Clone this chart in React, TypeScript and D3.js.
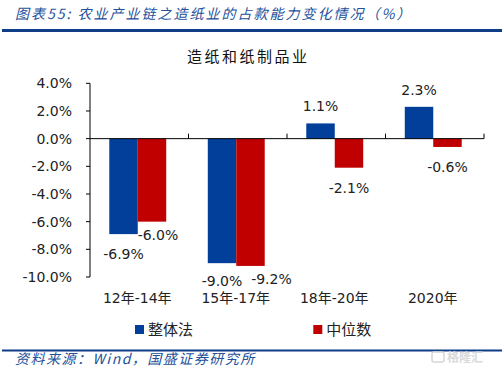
import React from "react";
import * as d3 from "d3";

const categories = ["12年-14年", "15年-17年", "18年-20年", "2020年"];
const seriesNames = ["整体法", "中位数"];
const wholeMethod = [-6.9, -9.0, 1.1, 2.3];
const median = [-6.0, -9.2, -2.1, -0.6];
const yTicks = [4, 2, 0, -2, -4, -6, -8, -10];

const headerText = "图表55: 农业产业链之造纸业的占款能力变化情况（%）";
const chartTitle = "造纸和纸制品业";
const sourceText = "资料来源：Wind，国盛证券研究所";

const colors = ["#013F9A", "#C00000"];
// manual label nudges (dx, dy) per series per category, to avoid overlap
const labelNudge = [
  [[0, 0], [0, -2], [0, 0], [0, 0]],
  [[6, -6.5], [21, -6.5], [0, 0], [0, 0]],
];

const W = 504;
const H = 381;
const plot = { left: 90, right: 484, top: 83.3, bottom: 277 };
const latin = "'DejaVu Sans', 'Noto Sans CJK SC', sans-serif";
const cjk = "'Noto Sans CJK SC', 'DejaVu Sans', sans-serif";

export default function App() {
  const y = d3.scaleLinear().domain([-10, 4]).range([plot.bottom, plot.top]);
  const x0 = d3.scaleBand<string>().domain(categories).range([plot.left, plot.right]).padding(0);
  const x1 = d3
    .scaleBand<number>()
    .domain([0, 1])
    .range([0, x0.bandwidth()])
    .paddingInner(0)
    .paddingOuter(0.73);
  const series = [wholeMethod, median];
  const zero = y(0);
  const fmt = (v: number) => v.toFixed(1) + "%";

  return (
    <svg
      width={W}
      height={H}
      style={{ position: "absolute", left: 0, top: 0, background: "#fff" }}
    >
      <rect x={0} y={0} width={W} height={H} fill="#fff" />
      {/* header */}
      <text
        x={15}
        y={19}
        fontFamily={cjk}
        fontSize={14}
        fontStyle="italic"
        letterSpacing={2}
        fill="#24509A"
      >
        {headerText}
      </text>
      <rect x={2} y={29} width={500} height={3} fill="#0F3D87" />

      {/* chart title */}
      <text x={187} y={62} fontFamily={cjk} fontSize={15} letterSpacing={2.5} fill="#111">
        {chartTitle}
      </text>

      {/* bars */}
      {series.map((vals, si) =>
        vals.map((v, ci) => {
          const bx = (x0(categories[ci]) as number) + (x1(si) as number) - 1.5;
          const yv = y(v);
          return (
            <rect
              key={`b${si}-${ci}`}
              x={bx}
              y={Math.min(yv, zero)}
              width={x1.bandwidth()}
              height={Math.abs(yv - zero)}
              fill={colors[si]}
            />
          );
        })
      )}

      {/* y axis */}
      <line x1={plot.left} x2={plot.left} y1={plot.top} y2={plot.bottom} stroke="#000" strokeWidth={1} />
      {yTicks.map((t) => (
        <g key={`yt${t}`}>
          <line x1={plot.left - 4} x2={plot.left} y1={y(t)} y2={y(t)} stroke="#000" />
          <text
            x={72}
            y={y(t) + 5}
            textAnchor="end"
            fontFamily={latin}
            fontSize={14}
            fill="#222"
          >
            {t.toFixed(1) + "%"}
          </text>
        </g>
      ))}

      {/* x axis */}
      <line x1={plot.left} x2={plot.right} y1={zero} y2={zero} stroke="#000" strokeWidth={1} />
      {categories.map((c, i) => {
        const bx = (x0(c) as number) + x0.bandwidth();
        return (
          <line key={`xt${i}`} x1={bx} x2={bx} y1={zero} y2={zero - 5} stroke="#000" />
        );
      })}
      {categories.map((c) => (
        <text
          key={`xl${c}`}
          x={(x0(c) as number) + x0.bandwidth() / 2 - 2}
          y={303}
          textAnchor="middle"
          fontFamily={latin}
          fontSize={14}
          fill="#222"
        >
          {c}
        </text>
      ))}

      {/* data labels */}
      {series.map((vals, si) =>
        vals.map((v, ci) => {
          const cx =
            (x0(categories[ci]) as number) + (x1(si) as number) - 1.5 + x1.bandwidth() / 2;
          const yv = y(v);
          const base = v < 0 ? yv + 25 : yv - 12.3;
          const [dx, dy] = labelNudge[si][ci];
          return (
            <text
              key={`l${si}-${ci}`}
              x={cx + dx}
              y={base + dy}
              textAnchor="middle"
              fontFamily={latin}
              fontSize={14}
              fill="#222"
            >
              {fmt(v)}
            </text>
          );
        })
      )}

      {/* legend */}
      {seriesNames.map((n, i) => {
        const lx = i === 0 ? 135 : 313.3;
        return (
          <g key={`lg${i}`}>
            <rect x={lx} y={325} width={9} height={9} fill={colors[i]} />
            <text x={lx + 13} y={334.5} fontFamily={cjk} fontSize={15} fill="#222">
              {n}
            </text>
          </g>
        );
      })}

      {/* footer */}
      <rect x={2} y={349.5} width={500} height={2} fill="#0F3D87" />
      <text
        x={15}
        y={364}
        fontFamily={cjk}
        fontSize={14}
        fontStyle="italic"
        letterSpacing={1.5}
        fill="#24509A"
      >
        {sourceText}
      </text>

      {/* watermark */}
      <rect x={432} y={352} width={12} height={10} rx={2} fill="none" stroke="#d6d6d6" strokeWidth={1.5} />
      <text x={447} y={362} fontFamily={cjk} fontSize={12} fontWeight="bold" fill="#d9d9d9">
        格隆汇
      </text>
    </svg>
  );
}
